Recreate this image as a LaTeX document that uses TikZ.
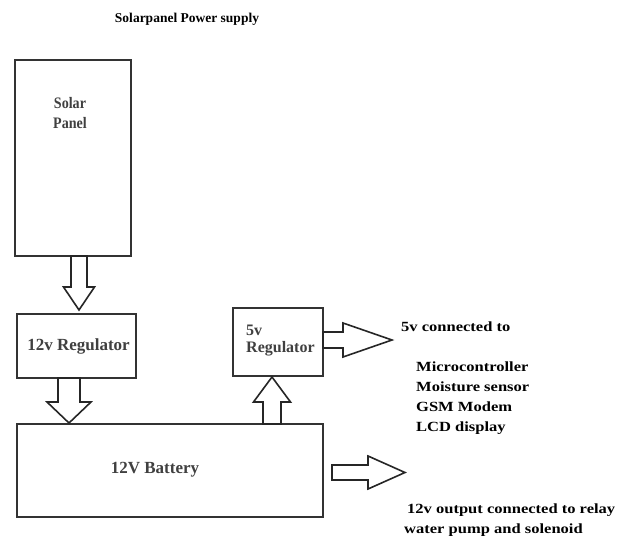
\documentclass[tikz,border=0pt]{standalone}
\usepackage{fontspec}
\setmainfont{Liberation Serif}
\newfontfamily\widefont[FakeStretch=1.18]{Liberation Serif}
\newfontfamily\narrowfont[FakeStretch=0.88]{Liberation Serif}
\usetikzlibrary{calc}
\begin{document}
\begin{tikzpicture}[x=1pt,y=-1pt,
  box/.style={draw=black!80, line width=1.6pt, inner sep=0pt, outer sep=0pt, fill=white},
  lbl/.style={font=\fontsize{17}{20}\selectfont\bfseries, text=black!75, align=center, inner sep=0pt},
  txt/.style={font=\widefont\fontsize{14}{20}\selectfont\bfseries, anchor=base west, inner sep=0pt},
  pics/barrow/.style n args={4}{code={%
    \draw[draw=black!85, line width=1.6pt, fill=white, line join=miter]
      (0,-#2) -- (#1-#4,-#2) -- (#1-#4,-#3) -- (#1,0) -- (#1-#4,#3) -- (#1-#4,#2) -- (0,#2) -- cycle;}}]
\useasboundingbox[fill=white] (0,0) rectangle (622,536);

% title
\node[font=\fontsize{13.5}{15}\selectfont\bfseries, anchor=base, inner sep=0pt] (title) at (187,22) {Solarpanel Power supply};

% boxes
\node[box, minimum width=116pt, minimum height=196pt] (solar) at (73,158) {};
\node[box, minimum width=119pt, minimum height=64pt] (reg12) at (76.5,346) {};
\node[box, minimum width=90pt, minimum height=68pt] (reg5) at (278,342) {};
\node[box, minimum width=306pt, minimum height=93pt] (bat) at (170,470.5) {};

% box labels
\node[lbl, font=\narrowfont\fontsize{16}{20}\selectfont\bfseries] (solarlbl) at (70,113) {Solar\\Panel};
\node[lbl] (reg12lbl) at (78.5,346) {12v Regulator};
\node[lbl, align=left, anchor=west, font=\fontsize{16}{17}\selectfont\bfseries] (reg5lbl) at (246,340.5) {5v\\Regulator};
\node[lbl] (batlbl) at (155,470) {12V Battery};

% block arrows
\pic[rotate=-90] at ($(solar.south)+(6,0)$) {barrow={54}{8}{15.5}{23}};
\pic[rotate=-90] at ($(reg12.south)+(-7.5,0)$) {barrow={45}{11}{22}{21}};
\pic[rotate=90] at ($(bat.north)+(102,0)$) {barrow={47}{9}{18.5}{25}};
\pic at ($(reg5.east)+(0,-2)$) {barrow={69}{8}{17}{49}};
\coordinate (batout) at ($(bat.east)+(9,2)$);
\pic at (batout) {barrow={73}{7.5}{16.5}{37}};

% right texts
\node[txt] (t5v) at (401,331) {5v connected to};
\node[txt] (t1) at (416,371) {Microcontroller};
\node[txt] (t2) at (416,391) {Moisture sensor};
\node[txt] (t3) at (416,411) {GSM Modem};
\node[txt] (t4) at (416,431) {LCD display};
\node[txt] (t12a) at (407,513) {12v output connected to relay};
\node[txt] (t12b) at (404,533) {water pump and solenoid};
\end{tikzpicture}
\end{document}
